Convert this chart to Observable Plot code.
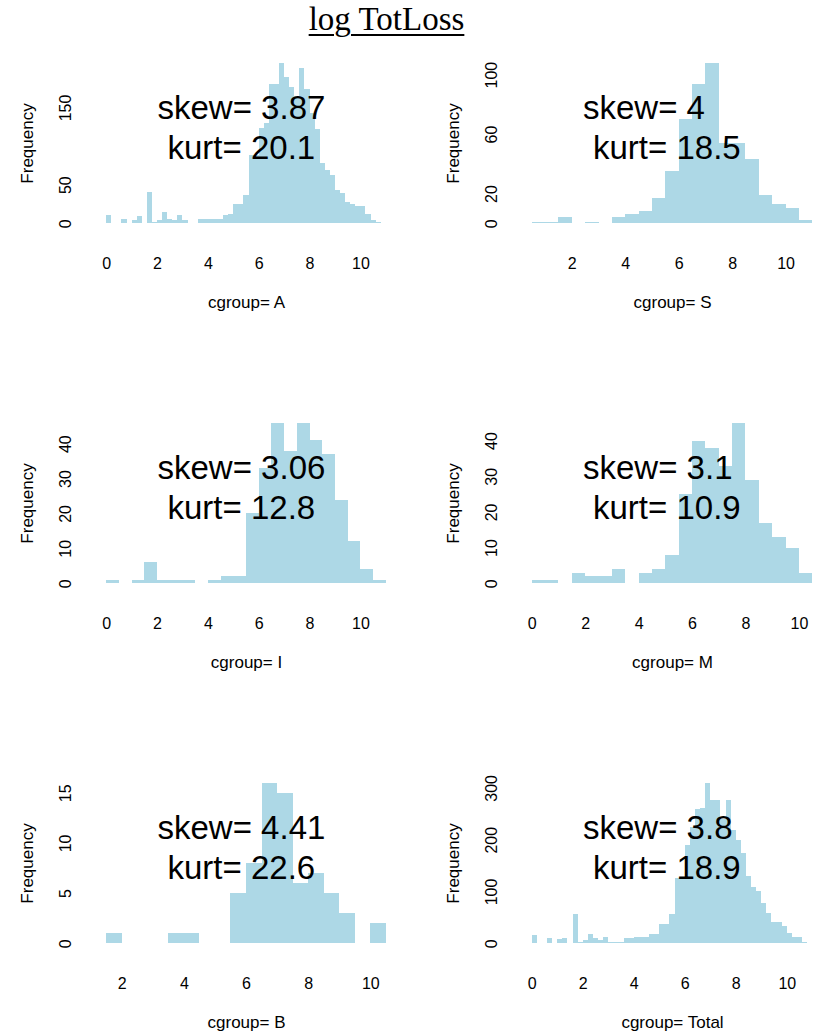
<!DOCTYPE html>
<html>
<head>
<meta charset="utf-8">
<script src="https://cdn.jsdelivr.net/npm/d3@7"></script>
<script src="https://cdn.jsdelivr.net/npm/@observablehq/plot@0.6"></script>
<style>
html, body { margin: 0; padding: 0; background: #fff; }
#wrap { position: relative; width: 817px; height: 1033px; overflow: hidden; background: #fff; }
#title { position: absolute; left: 0; top: 3px; width: 773px; text-align: center;
  font-family: "Liberation Serif", "Times New Roman", serif; font-size: 33px; line-height: 32px; color: #000; }
#title span { text-decoration: underline; text-decoration-thickness: 2px; text-underline-offset: 4px; }
.panel { position: absolute; }
</style>
</head>
<body>
<div id="wrap"><div id="title"><span>log TotLoss</span></div></div>
<script>
// ---- data ----
const groups = ["A", "S", "I", "M", "B", "Total"];
const breakStart = [0, 0.5, 0, 0, 1.5, 0];
const binWidth = [0.2, 0.5, 0.5, 0.5, 0.5, 0.2];

const countsA = [11, 0, 0, 5, 0, 4, 9, 0, 40, 2, 4, 15, 5, 4, 11, 4, 0, 1, 5, 5, 5, 5, 5, 11, 12,
  25, 25, 37, 88, 88, 124, 130, 181, 181, 208, 189, 177, 165, 201, 174, 143, 122, 78, 69, 63,
  43, 39, 28, 25, 22, 22, 12, 4, 2, 0];
const countsS = [1, 1, 4, 0, 1, 0, 4, 6, 8, 17, 35, 70, 94, 108, 54, 54, 43, 19, 13, 10, 2];
const countsI = [1, 0, 1, 6, 1, 1, 1, 0, 1, 2, 2, 20, 33, 46, 38, 46, 41, 37, 24, 12, 4, 1];
const countsM = [1, 1, 0, 3, 2, 2, 4, 0, 3, 4, 8, 25, 40, 38, 33, 45, 29, 17, 13, 10, 3];
const countsB = [1, 0, 0, 0, 1, 1, 0, 0, 5, 8, 16, 15, 6, 7, 5, 3, 0, 2];
const countsTotal = [16, 0, 0, 10, 0, 8, 10, 0, 57, 3, 6, 18, 10, 6, 12, 2, 2, 2, 10, 10, 13, 13, 13,
  18, 18, 37, 37, 57, 127, 127, 190, 225, 260, 262, 310, 276, 276, 240, 276, 219, 199, 174, 129,
  109, 100, 77, 58, 42, 42, 34, 19, 13, 13, 3, 0];
const allCounts = [countsA, countsS, countsI, countsM, countsB, countsTotal];

const skewText = ["3.87", "4", "3.06", "3.1", "4.41", "3.8"];
const kurtText = ["20.1", "18.5", "12.8", "10.9", "22.6", "18.9"];

const xTicks = [
  [0, 2, 4, 6, 8, 10], [2, 4, 6, 8, 10], [0, 2, 4, 6, 8, 10],
  [0, 2, 4, 6, 8, 10], [2, 4, 6, 8, 10], [0, 2, 4, 6, 8, 10]
];
const yTicks = [
  [0, 50, 150], [0, 20, 60, 100], [0, 10, 20, 30, 40],
  [0, 10, 20, 30, 40], [0, 5, 10, 15], [0, 100, 200, 300]
];

const FONT = '"Liberation Sans", Arial, Helvetica, sans-serif';
const BAR = "#ADD8E6";

function panel(i) {
  const col = i % 2, row = Math.floor(i / 2);
  const counts = allCounts[i];
  const w = binWidth[i], s = breakStart[i];
  const bins = counts.map((c, k) => ({x1: s + k * w, x2: s + (k + 1) * w, base: 0, count: c}))
    .filter(d => d.count > 0);
  const lo = s, hi = s + counts.length * w;
  const ext = 0.04 * (hi - lo);
  const ymax = d3.max(counts);
  const W = col === 0 ? 408 : 416;
  const mL = col === 0 ? 95 : 111.5;
  const mR = col === 0 ? 11 : 1.5;
  const chart = Plot.plot({
    width: W,
    height: 273,
    marginLeft: mL,
    marginRight: mR,
    marginTop: 16.3,
    marginBottom: 83.3,
    style: {fontFamily: FONT, fontSize: "16px", background: "white", color: "black", overflow: "visible"},
    x: {domain: [lo - ext, hi + ext]},
    y: {domain: [-0.04 * ymax, 1.04 * ymax]},
    marks: [
      Plot.rectY(bins, {x1: "x1", x2: "x2", y1: "base", y2: "count", fill: BAR, shapeRendering: "crispEdges"}),
      Plot.axisX({ticks: xTicks[i], tickSize: 0, tickPadding: 27, fontSize: 16, label: null, fill: "black"}),
      Plot.axisY({ticks: yTicks[i], tickSize: 0, tickPadding: 29.5, tickRotate: -90,
        textAnchor: "middle", lineAnchor: "middle", fontSize: 16, label: null, fill: "black"}),
      Plot.text(["Frequency"], {frameAnchor: "left", dx: -67.5, rotate: -90, textAnchor: "middle",
        lineAnchor: "middle", fontSize: 17, fill: "black"}),
      Plot.text(["cgroup= " + groups[i]], {frameAnchor: "bottom", dy: 78, lineAnchor: "bottom",
        fontSize: 17, fill: "black"}),
      Plot.text(["skew= " + skewText[i]], {frameAnchor: "top-left", dx: 62, dy: 62, textAnchor: "start",
        lineAnchor: "bottom", fontSize: 33, fill: "black"}),
      Plot.text(["kurt= " + kurtText[i]], {frameAnchor: "top-left", dx: 72, dy: 102, textAnchor: "start",
        lineAnchor: "bottom", fontSize: 33, fill: "black"})
    ]
  });
  chart.classList.add("panel");
  chart.style.left = (col === 0 ? 0 : 409) + "px";
  chart.style.top = (40 + 360 * row) + "px";
  document.getElementById("wrap").appendChild(chart);
}
for (let i = 0; i < 6; i++) panel(i);
</script>
</body>
</html>
